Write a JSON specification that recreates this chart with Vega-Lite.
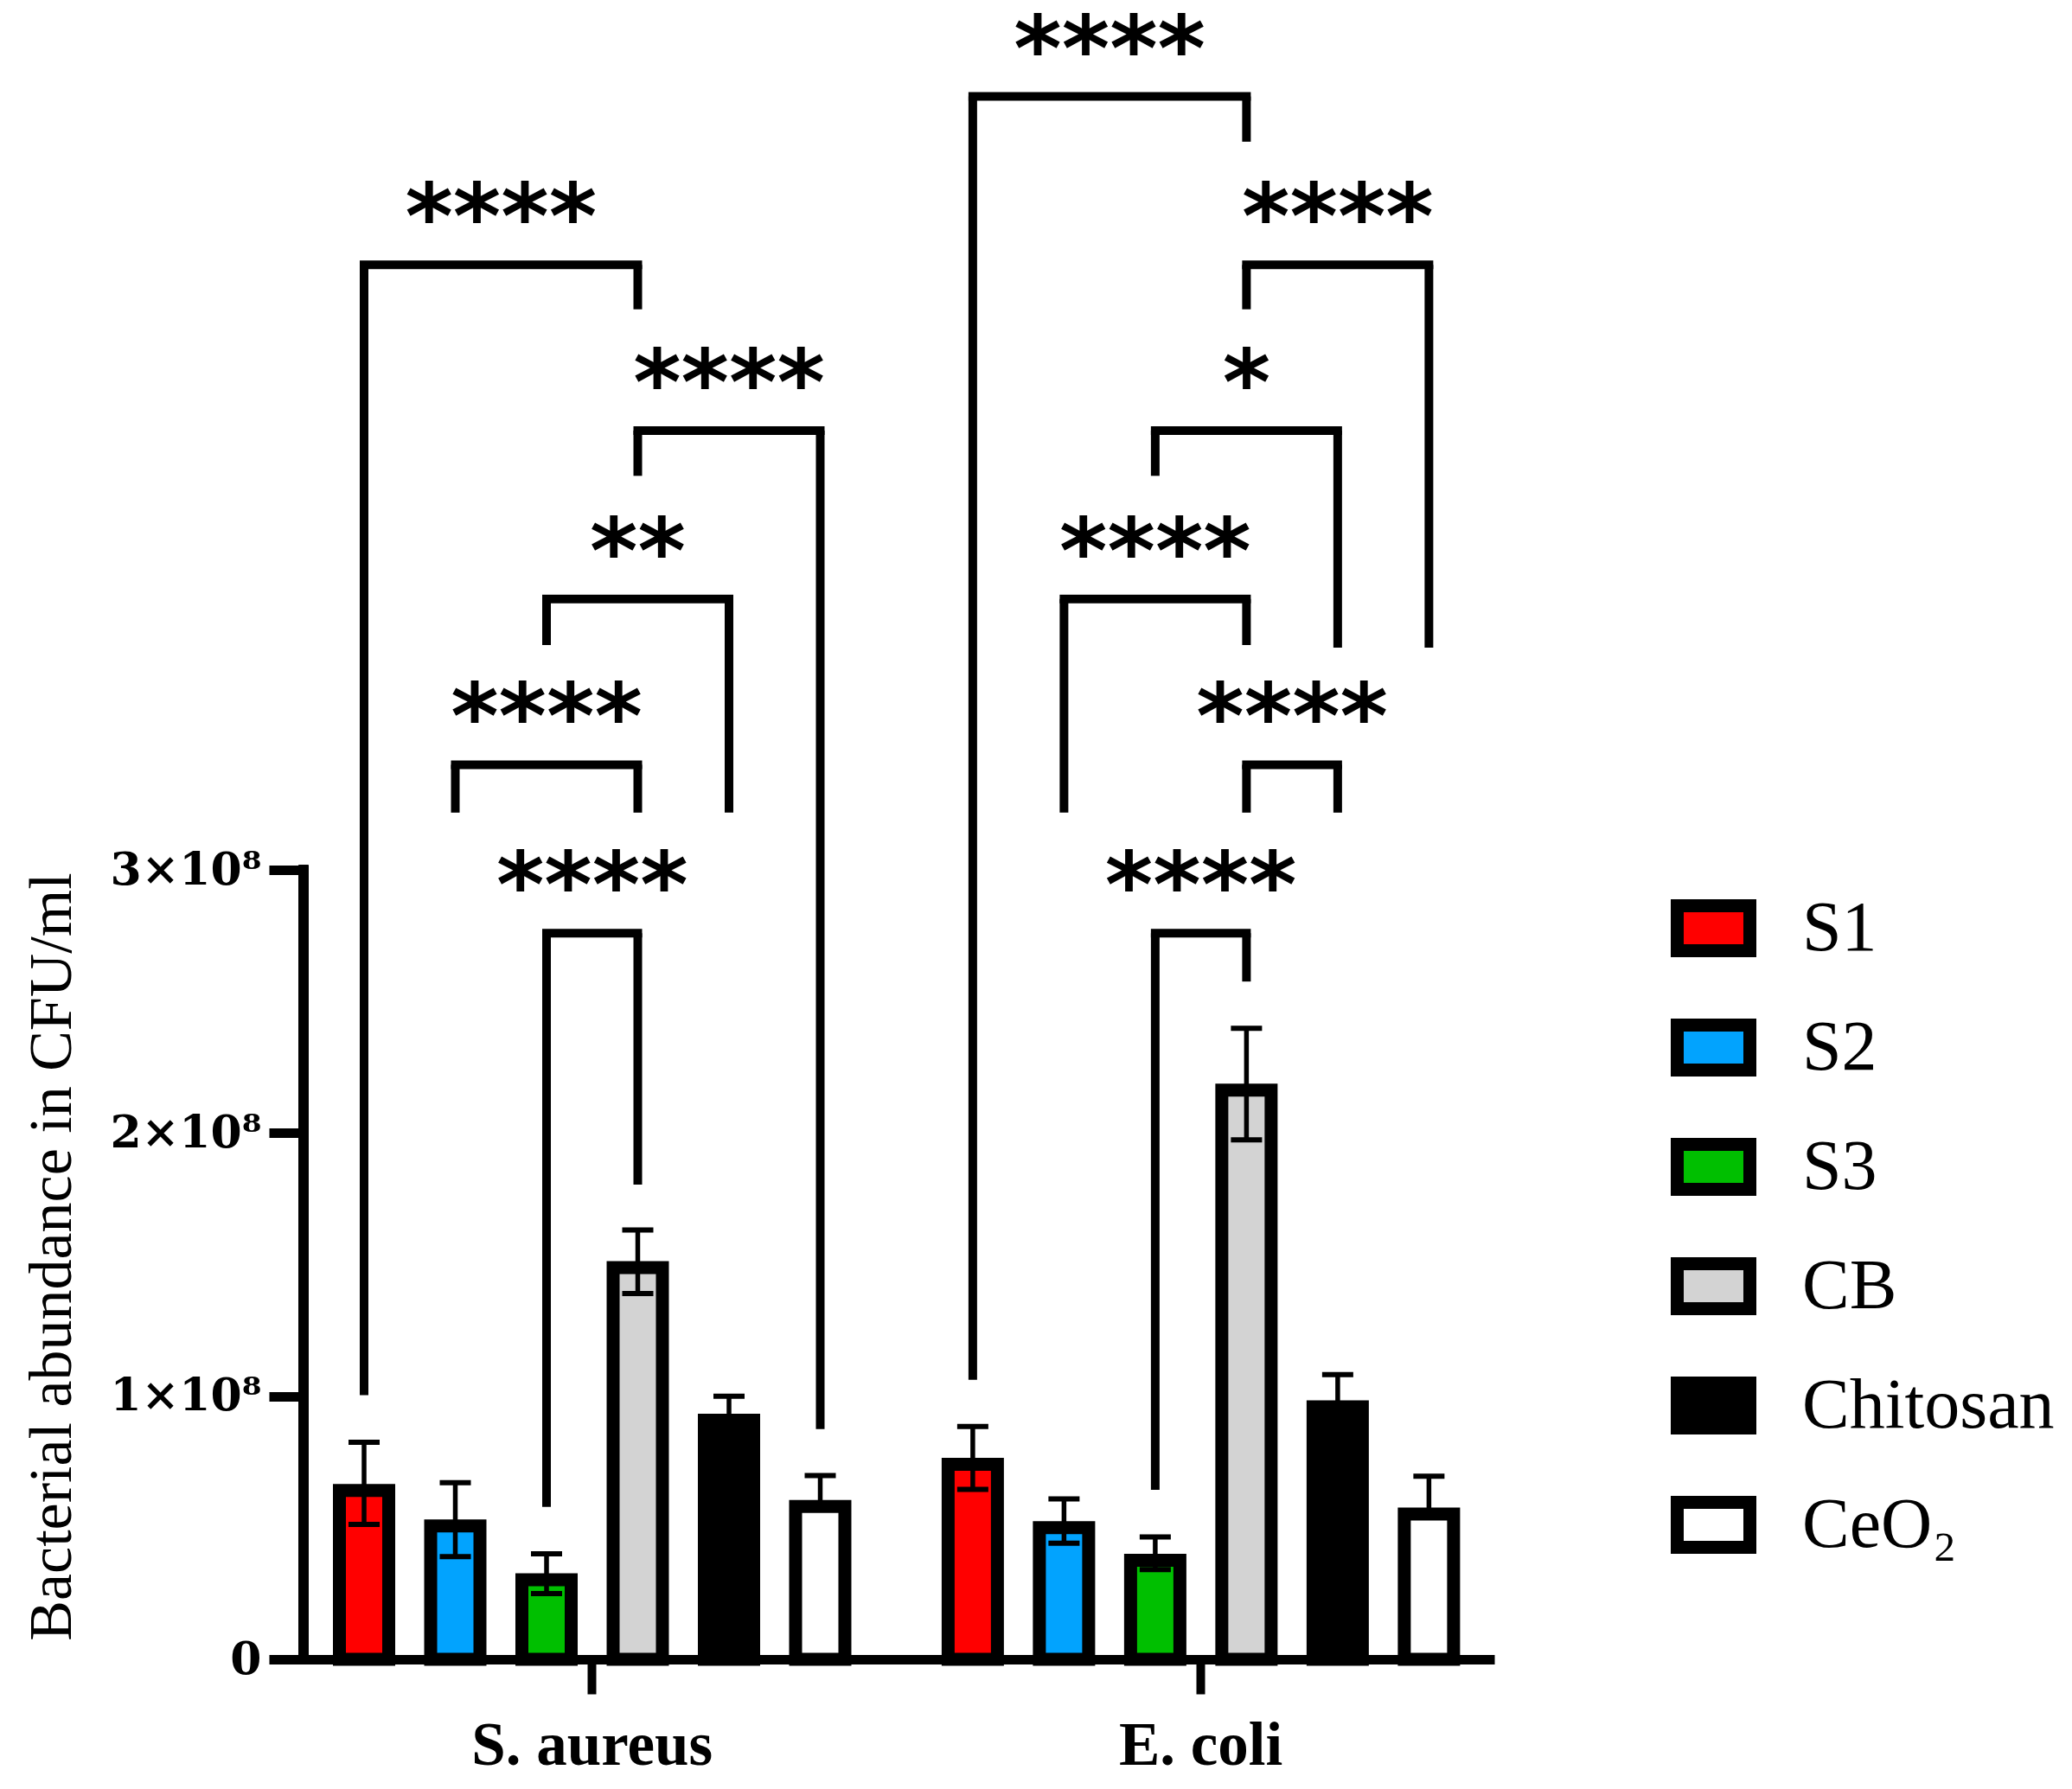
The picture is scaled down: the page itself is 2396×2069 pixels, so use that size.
{
  "$schema": "https://vega.github.io/schema/vega-lite/v6.json",
  "width": 1377,
  "height": 1917,
  "autosize": {"type": "none"},
  "padding": {"left": 351, "top": 2, "right": 668, "bottom": 150},
  "background": "white",
  "config": {"view": {"stroke": null}},
  "datasets": {
    "bars": [
      {"bacteria": "S. aureus", "group": "S1", "mean": 64200000, "lo": 51300000, "hi": 82500000},
      {"bacteria": "S. aureus", "group": "S2", "mean": 50700000, "lo": 39000000, "hi": 67100000},
      {"bacteria": "S. aureus", "group": "S3", "mean": 30200000, "lo": 25000000, "hi": 40100000},
      {"bacteria": "S. aureus", "group": "CB", "mean": 148900000, "lo": 139000000, "hi": 163200000},
      {"bacteria": "S. aureus", "group": "Chitosan", "mean": 90900000, "lo": null, "hi": 100000000},
      {"bacteria": "S. aureus", "group": "CeO₂", "mean": 58100000, "lo": null, "hi": 69800000},
      {"bacteria": "E. coli", "group": "S1", "mean": 74100000, "lo": 64600000, "hi": 88500000},
      {"bacteria": "E. coli", "group": "S2", "mean": 50000000, "lo": 44100000, "hi": 61000000},
      {"bacteria": "E. coli", "group": "S3", "mean": 37600000, "lo": 34100000, "hi": 46500000},
      {"bacteria": "E. coli", "group": "CB", "mean": 216300000, "lo": 197400000, "hi": 239800000},
      {"bacteria": "E. coli", "group": "Chitosan", "mean": 96000000, "lo": null, "hi": 108200000},
      {"bacteria": "E. coli", "group": "CeO₂", "mean": 55200000, "lo": null, "hi": 69600000}
    ],
    "comparisons": [
      {"bacteria": "S. aureus", "from": "S1", "to": "CB", "level": 530000000, "fromEnd": 100400000, "toEnd": 513100000, "stars": "****"},
      {"bacteria": "S. aureus", "from": "CB", "to": "CeO₂", "level": 467000000, "fromEnd": 449800000, "toEnd": 87500000, "stars": "****"},
      {"bacteria": "S. aureus", "from": "S3", "to": "Chitosan", "level": 403000000, "fromEnd": 385500000, "toEnd": 321800000, "stars": "**"},
      {"bacteria": "S. aureus", "from": "S2", "to": "CB", "level": 340000000, "fromEnd": 321800000, "toEnd": 321800000, "stars": "****"},
      {"bacteria": "S. aureus", "from": "S3", "to": "CB", "level": 276000000, "fromEnd": 57900000, "toEnd": 180400000, "stars": "****"},
      {"bacteria": "E. coli", "from": "S1", "to": "CB", "level": 594000000, "fromEnd": 106200000, "toEnd": 576800000, "stars": "****"},
      {"bacteria": "E. coli", "from": "CB", "to": "CeO₂", "level": 530000000, "fromEnd": 513100000, "toEnd": 384500000, "stars": "****"},
      {"bacteria": "E. coli", "from": "S3", "to": "Chitosan", "level": 467000000, "fromEnd": 449800000, "toEnd": 384500000, "stars": "*"},
      {"bacteria": "E. coli", "from": "S2", "to": "CB", "level": 403000000, "fromEnd": 321800000, "toEnd": 385500000, "stars": "****"},
      {"bacteria": "E. coli", "from": "CB", "to": "Chitosan", "level": 340000000, "fromEnd": 321800000, "toEnd": 321800000, "stars": "****"},
      {"bacteria": "E. coli", "from": "S3", "to": "CB", "level": 276000000, "fromEnd": 64400000, "toEnd": 257600000, "stars": "****"}
    ]
  },
  "layer": [
    {
      "data": {"name": "bars"},
      "mark": {"type": "bar", "stroke": "black", "strokeWidth": 15, "strokeJoin": "miter"},
      "encoding": {
        "x": {
          "field": "bacteria", "type": "nominal",
          "scale": {"domain": ["S. aureus", "E. coli"], "paddingInner": 0.1007, "paddingOuter": 0.0285, "align": 0.43},
          "axis": {
            "title": null, "labelAngle": 0, "domain": true, "domainWidth": 11, "domainColor": "black",
            "ticks": true, "tickSize": 40, "tickWidth": 10, "tickColor": "black", "grid": false,
            "labelFont": "Liberation Serif", "labelFontWeight": "bold", "labelFontSize": 71, "labelColor": "black",
            "labelBaseline": "alphabetic", "labelPadding": 81, "labelLimit": 0
          }
        },
        "xOffset": {
          "field": "group", "type": "nominal",
          "scale": {"domain": ["S1", "S2", "S3", "CB", "Chitosan", "CeO₂"], "paddingInner": 0.4597, "paddingOuter": 0.2299}
        },
        "y": {
          "field": "mean", "type": "quantitative",
          "scale": {"domain": [0, 630000000], "nice": false},
          "axis": {
            "values": [0, 100000000, 200000000, 300000000], "domain": false, "grid": false,
            "ticks": true, "tickSize": 40, "tickWidth": 11, "tickColor": "black",
            "labelFont": "DejaVu Serif", "labelFontWeight": "bold", "labelFontSize": 52, "labelColor": "black", "labelPadding": 9, "labelLimit": 0,
            "labelExpr": "datum.value == 0 ? '0' : format(datum.value / 100000000, 'd') + '×10⁸'",
            "title": "Bacterial abundance in CFU/ml", "titleFont": "Liberation Serif", "titleFontWeight": "normal",
            "titleFontSize": 70, "titleColor": "black", "titleAngle": -90, "titleX": -270, "titleY": 1451,
            "titleAlign": "center", "titleBaseline": "alphabetic", "titleLimit": 0
          }
        },
        "fill": {
          "field": "group", "type": "nominal",
          "scale": {"domain": ["S1", "S2", "S3", "CB", "Chitosan", "CeO₂"], "range": ["#FF0000", "#02A3FE", "#00BF00", "#D3D3D3", "#000000", "#FFFFFF"]},
          "legend": {
            "orient": "none", "legendX": 1581, "legendY": 1022, "title": null, "padding": 0,
            "symbolType": "M-1,-0.619H1V0.619H-1Z", "symbolSize": 7056, "symbolStrokeColor": "black", "symbolStrokeWidth": 15,
            "symbolOpacity": 1,
            "labelFont": "Liberation Serif", "labelFontSize": 82, "labelColor": "black", "labelLimit": 0,
            "labelOffset": 53, "rowPadding": 25
          }
        }
      }
    },
    {
      "data": {"name": "bars"},
      "mark": {"type": "rule", "color": "black", "strokeWidth": 5.5},
      "encoding": {
        "x": {"field": "bacteria", "type": "nominal", "scale": {"domain": ["S. aureus", "E. coli"]}},
        "xOffset": {"field": "group", "type": "nominal", "scale": {"domain": ["S1", "S2", "S3", "CB", "Chitosan", "CeO₂"]}},
        "y": {"field": "hi", "type": "quantitative"},
        "y2": {"field": "mean"}
      }
    },
    {
      "data": {"name": "bars"},
      "mark": {"type": "rule", "color": "black", "strokeWidth": 5.5},
      "encoding": {
        "x": {"field": "bacteria", "type": "nominal", "scale": {"domain": ["S. aureus", "E. coli"]}},
        "xOffset": {"field": "group", "type": "nominal", "scale": {"domain": ["S1", "S2", "S3", "CB", "Chitosan", "CeO₂"]}},
        "y": {"field": "lo", "type": "quantitative"},
        "y2": {"field": "mean"}
      }
    },
    {
      "data": {"name": "bars"},
      "mark": {"type": "tick", "color": "black", "orient": "horizontal", "size": 36, "thickness": 6, "opacity": 1},
      "encoding": {
        "x": {"field": "bacteria", "type": "nominal", "scale": {"domain": ["S. aureus", "E. coli"]}},
        "xOffset": {"field": "group", "type": "nominal", "scale": {"domain": ["S1", "S2", "S3", "CB", "Chitosan", "CeO₂"]}},
        "y": {"field": "hi", "type": "quantitative"}
      }
    },
    {
      "data": {"name": "bars"},
      "mark": {"type": "tick", "color": "black", "orient": "horizontal", "size": 36, "thickness": 6, "opacity": 1},
      "encoding": {
        "x": {"field": "bacteria", "type": "nominal", "scale": {"domain": ["S. aureus", "E. coli"]}},
        "xOffset": {"field": "group", "type": "nominal", "scale": {"domain": ["S1", "S2", "S3", "CB", "Chitosan", "CeO₂"]}},
        "y": {"field": "lo", "type": "quantitative"}
      }
    },
    {
      "data": {"name": "bars"},
      "mark": {"type": "rule", "color": "black", "strokeWidth": 11, "strokeCap": "square"},
      "encoding": {
        "x": {"value": 0},
        "y": {"datum": 0, "type": "quantitative"},
        "y2": {"datum": 300000000}
      }
    },
    {
      "data": {"name": "comparisons"},
      "mark": {"type": "rule", "color": "black", "strokeWidth": 10},
      "encoding": {
        "x": {"field": "bacteria", "type": "nominal", "scale": {"domain": ["S. aureus", "E. coli"]}},
        "xOffset": {"field": "from", "type": "nominal", "scale": {"domain": ["S1", "S2", "S3", "CB", "Chitosan", "CeO₂"]}},
        "y": {"field": "level", "type": "quantitative"},
        "y2": {"field": "fromEnd"}
      }
    },
    {
      "data": {"name": "comparisons"},
      "mark": {"type": "rule", "color": "black", "strokeWidth": 10},
      "encoding": {
        "x": {"field": "bacteria", "type": "nominal", "scale": {"domain": ["S. aureus", "E. coli"]}},
        "xOffset": {"field": "to", "type": "nominal", "scale": {"domain": ["S1", "S2", "S3", "CB", "Chitosan", "CeO₂"]}},
        "y": {"field": "level", "type": "quantitative"},
        "y2": {"field": "toEnd"}
      }
    },
    {
      "data": {"name": "comparisons"},
      "transform": [{"fold": ["from", "to"], "as": ["side", "grp"]}],
      "mark": {"type": "line", "color": "black", "strokeWidth": 10, "strokeCap": "square"},
      "encoding": {
        "x": {"field": "bacteria", "type": "nominal", "scale": {"domain": ["S. aureus", "E. coli"]}},
        "xOffset": {"field": "grp", "type": "nominal", "scale": {"domain": ["S1", "S2", "S3", "CB", "Chitosan", "CeO₂"]}},
        "y": {"field": "level", "type": "quantitative"},
        "detail": [{"field": "bacteria"}, {"field": "level"}],
        "order": {"field": "side"}
      }
    },
    {
      "data": {"name": "comparisons"},
      "transform": [{"filter": "indexof(['S1','S2','S3','CB','Chitosan','CeO₂'], datum.to) - indexof(['S1','S2','S3','CB','Chitosan','CeO₂'], datum.from) == 3"}],
      "mark": {"type": "text", "font": "DejaVu Sans", "fontWeight": "bold", "fontSize": 106, "color": "black", "baseline": "alphabetic", "align": "center", "dy": -19, "dx": 158.25},
      "encoding": {
        "x": {"field": "bacteria", "type": "nominal", "scale": {"domain": ["S. aureus", "E. coli"]}},
        "xOffset": {"field": "from", "type": "nominal", "scale": {"domain": ["S1", "S2", "S3", "CB", "Chitosan", "CeO₂"]}},
        "y": {"field": "level", "type": "quantitative"},
        "text": {"field": "stars"}
      }
    },
    {
      "data": {"name": "comparisons"},
      "transform": [{"filter": "indexof(['S1','S2','S3','CB','Chitosan','CeO₂'], datum.to) - indexof(['S1','S2','S3','CB','Chitosan','CeO₂'], datum.from) == 2"}],
      "mark": {"type": "text", "font": "DejaVu Sans", "fontWeight": "bold", "fontSize": 106, "color": "black", "baseline": "alphabetic", "align": "center", "dy": -19, "dx": 105.5},
      "encoding": {
        "x": {"field": "bacteria", "type": "nominal", "scale": {"domain": ["S. aureus", "E. coli"]}},
        "xOffset": {"field": "from", "type": "nominal", "scale": {"domain": ["S1", "S2", "S3", "CB", "Chitosan", "CeO₂"]}},
        "y": {"field": "level", "type": "quantitative"},
        "text": {"field": "stars"}
      }
    },
    {
      "data": {"name": "comparisons"},
      "transform": [{"filter": "indexof(['S1','S2','S3','CB','Chitosan','CeO₂'], datum.to) - indexof(['S1','S2','S3','CB','Chitosan','CeO₂'], datum.from) == 1"}],
      "mark": {"type": "text", "font": "DejaVu Sans", "fontWeight": "bold", "fontSize": 106, "color": "black", "baseline": "alphabetic", "align": "center", "dy": -19, "dx": 52.75},
      "encoding": {
        "x": {"field": "bacteria", "type": "nominal", "scale": {"domain": ["S. aureus", "E. coli"]}},
        "xOffset": {"field": "from", "type": "nominal", "scale": {"domain": ["S1", "S2", "S3", "CB", "Chitosan", "CeO₂"]}},
        "y": {"field": "level", "type": "quantitative"},
        "text": {"field": "stars"}
      }
    }
  ]
}
